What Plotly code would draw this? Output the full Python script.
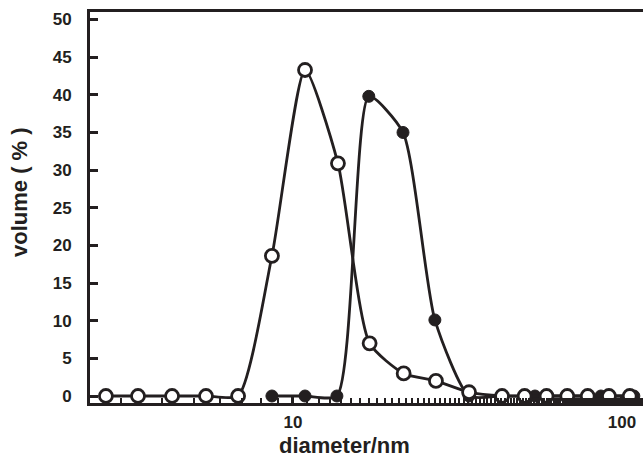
import plotly.graph_objects as go

# Open circles series
open_d = [2.70, 3.38, 4.29, 5.44, 6.81, 8.63, 10.88, 13.7, 17.1, 21.7, 27.2, 34.3, 43.2,
          50.6, 59.0, 68.2, 78.7, 91.3, 105.6]
open_v = [0, 0, 0, 0, 0, 18.6, 43.3, 30.9, 7.0, 3.0, 2.0, 0.5, 0,
          0, 0, 0, 0, 0, 0]

# Filled circles series
filled_d = [8.63, 10.88, 13.6, 17.0, 21.6, 27.0, 34.3, 43.2, 54.4, 68.5, 86.3, 108.7]
filled_v = [0, 0, 0, 39.8, 35.0, 10.1, 0, 0, 0, 0, 0, 0]

x_tickvals = [10, 100]
x_ticktext = ["10", "100"]
y_tickvals = [0, 5, 10, 15, 20, 25, 30, 35, 40, 45, 50]

INK = "#231f20"
FONT = "Liberation Sans, Arial, sans-serif"
SMOOTH = 0.6

fig = go.Figure()
fig.add_trace(go.Scatter(
    x=filled_d, y=filled_v, mode="lines+markers",
    line=dict(color=INK, width=2.8, shape="spline", smoothing=SMOOTH),
    marker=dict(symbol="circle", size=12, color=INK, line=dict(color=INK, width=1)),
    showlegend=False, cliponaxis=False))
fig.add_trace(go.Scatter(
    x=open_d, y=open_v, mode="lines+markers",
    line=dict(color=INK, width=2.8, shape="spline", smoothing=SMOOTH),
    marker=dict(symbol="circle", size=13, color="white", line=dict(color=INK, width=2.8)),
    showlegend=False, cliponaxis=False))

fig.update_layout(
    width=643, height=459,
    margin=dict(l=90, r=0, t=12, b=56),
    paper_bgcolor="white", plot_bgcolor="white",
    font=dict(family=FONT, color=INK),
    xaxis=dict(
        type="log", range=[0.383, 2.064],
        tickvals=x_tickvals, ticktext=x_ticktext,
        ticks="inside", ticklen=7, tickwidth=2.5, tickcolor=INK,
        minor=dict(ticks="inside", ticklen=5, tickwidth=2, tickcolor=INK, showgrid=False),
        showline=True, linewidth=3, linecolor=INK, mirror=True,
        showgrid=False, zeroline=False,
        tickfont=dict(family=FONT, size=17, color=INK, weight="bold"),
        ticklabelstandoff=2,
    ),
    yaxis=dict(
        range=[-0.93, 51.0],
        tickvals=y_tickvals,
        ticks="inside", ticklen=8, tickwidth=3, tickcolor=INK,
        showline=True, linewidth=3, linecolor=INK,
        showgrid=False, zeroline=False,
        tickfont=dict(family=FONT, size=17, color=INK, weight="bold"),
        ticklabelstandoff=12,
    ),
    annotations=[
        dict(text="diameter/nm", xref="paper", yref="paper", x=(344 - 90) / 553, y=-(445 - 403) / 391,
             showarrow=False, xanchor="center", yanchor="middle",
             font=dict(family=FONT, size=22, color=INK, weight="bold")),
        dict(text="volume ( % )", xref="paper", yref="paper", x=-(90 - 19) / 553, y=(403 - 192) / 391,
             showarrow=False, xanchor="center", yanchor="middle", textangle=-90,
             font=dict(family=FONT, size=22, color=INK, weight="bold")),
    ],
)

fig.write_html("out.html")
